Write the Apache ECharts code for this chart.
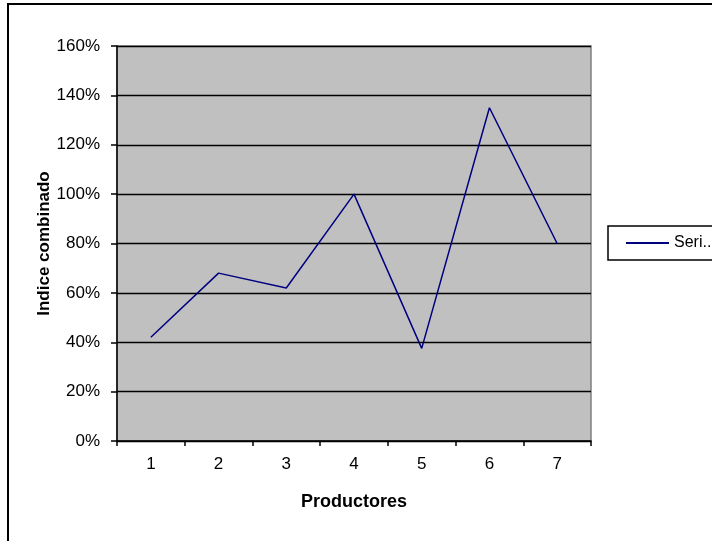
<!DOCTYPE html>
<html>
<head>
<meta charset="utf-8">
<script src="https://cdn.jsdelivr.net/npm/echarts@6/dist/echarts.min.js"></script>
<style>html,body{margin:0;padding:0;background:#fff}#c{width:712px;height:541px}</style>
</head>
<body>
<div id="c"></div>
<script>
var categories = ['1', '2', '3', '4', '5', '6', '7'];
var serie1 = [0.42, 0.68, 0.62, 1.00, 0.375, 1.35, 0.80];
var yTicks = [0, 0.2, 0.4, 0.6, 0.8, 1.0, 1.2, 1.4, 1.6];

var chart = echarts.init(document.getElementById('c'), null, {renderer: 'canvas'});
var font = 'Liberation Sans, Arial, sans-serif';
chart.setOption({
  animation: false,
  backgroundColor: '#fff',
  textStyle: {fontFamily: font},
  graphic: [{
    type: 'rect', silent: true, z: -10,
    shape: {x: 8, y: 4, width: 800, height: 700},
    style: {fill: 'none', stroke: '#000', lineWidth: 2}
  }],
  grid: {
    left: 117, top: 46, width: 474, height: 395,
    show: true, backgroundColor: '#C0C0C0', borderColor: '#808080', borderWidth: 1.5
  },
  legend: {
    left: 608, top: 226,
    padding: [9, 40, 9, 18],
    borderColor: '#000', borderWidth: 1.5,
    backgroundColor: '#fff',
    itemWidth: 43, itemHeight: 2, itemGap: 0,
    icon: 'rect',
    formatter: function () { return 'Seri..'; },
    textStyle: {fontFamily: font, fontSize: 16, color: '#000'},
    data: ['Serie1']
  },
  xAxis: {
    type: 'category', data: categories, boundaryGap: true,
    name: 'Productores', nameLocation: 'middle', nameGap: 52,
    nameMoveOverlap: false,
    nameTextStyle: {fontFamily: font, fontSize: 18, fontWeight: 'bold', color: '#000'},
    axisLine: {lineStyle: {color: '#000', width: 1.5}},
    axisTick: {show: true, length: 5, inside: false, lineStyle: {color: '#000', width: 1.5}},
    axisLabel: {fontFamily: font, fontSize: 17, color: '#000', margin: 15},
    splitLine: {show: false}
  },
  yAxis: {
    type: 'value', min: 0, max: 1.6, interval: 0.2,
    name: 'Indice combinado', nameLocation: 'middle', nameGap: 64, nameRotate: 90,
    nameMoveOverlap: false,
    nameTextStyle: {fontFamily: font, fontSize: 17, fontWeight: 'bold', color: '#000'},
    axisLine: {show: true, lineStyle: {color: '#000', width: 1.5}},
    axisTick: {show: true, length: 6, inside: false, lineStyle: {color: '#000', width: 1.5}},
    axisLabel: {
      fontFamily: font, fontSize: 17, color: '#000', margin: 17,
      formatter: function (v) { return Math.round(v * 100) + '%'; }
    },
    splitLine: {show: true, lineStyle: {color: '#000', width: 1.3}}
  },
  series: [{
    name: 'Serie1', type: 'line', data: serie1,
    symbol: 'none', smooth: false,
    lineStyle: {color: '#000080', width: 1.5},
    itemStyle: {color: '#000080'}
  }]
});
</script>
</body>
</html>
